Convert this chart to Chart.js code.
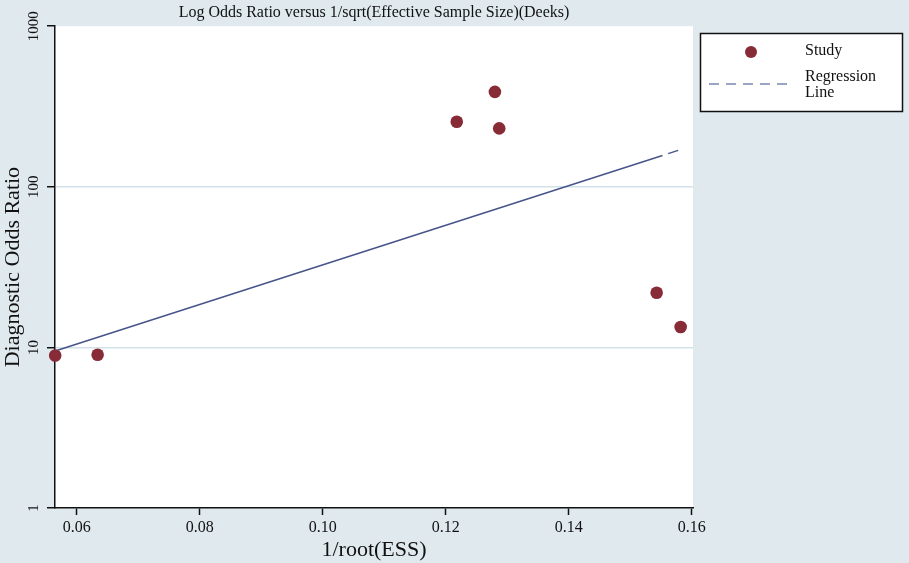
<!DOCTYPE html>
<html>
<head>
<meta charset="utf-8">
<script src="https://cdn.jsdelivr.net/npm/chart.js@4.4.1/dist/chart.umd.min.js"></script>
<style>
  html, body { margin: 0; padding: 0; background: #dfe9ee; }
  #wrap { width: 909px; height: 563px; position: relative; }
</style>
</head>
<body>
<div id="wrap"><canvas id="c"></canvas></div>
<script>
// ---- data ----
const studyX   = [0.0565, 0.0634, 0.1218, 0.1280, 0.1287, 0.1543, 0.1582];
const studyDOR = [8.9, 9.0, 254, 390, 231, 21.9, 13.4];
const regX     = [0.0565, 0.1578];
const regDOR   = [9.5, 168.5];
const xTicks   = [0.06, 0.08, 0.10, 0.12, 0.14, 0.16];
const yTicks   = [1, 10, 100, 1000];
const yGridAt  = [10, 100];
const titleText  = 'Log Odds Ratio versus 1/sqrt(Effective Sample Size)(Deeks)';
const xTitleText = '1/root(ESS)';
const yTitleText = 'Diagnostic Odds Ratio';
const legendItems = ['Study', 'Regression', 'Line'];

const SERIF = '"Liberation Serif", "DejaVu Serif", serif';
const BG = '#dfe9ee';
const POINT_COLOR = '#872b37';
const LINE_COLOR = '#46548a';

const bgPlugin = {
  id: 'bg',
  beforeDraw(chart) {
    const {ctx, chartArea: a} = chart;
    ctx.save();
    ctx.fillStyle = BG;
    ctx.fillRect(0, 0, chart.width, chart.height);
    ctx.fillStyle = '#ffffff';
    ctx.fillRect(a.left, a.top, a.right - a.left, a.bottom - a.top);
    ctx.restore();
  }
};

const legendPlugin = {
  id: 'customLegend',
  afterDraw(chart) {
    const ctx = chart.ctx;
    const bx = 700.5, by = 33.5, bw = 202, bh = 78;
    ctx.save();
    ctx.fillStyle = '#ffffff';
    ctx.fillRect(bx, by, bw, bh);
    ctx.strokeStyle = '#111';
    ctx.lineWidth = 1.5;
    ctx.strokeRect(bx, by, bw, bh);
    // marker
    ctx.fillStyle = POINT_COLOR;
    ctx.beginPath();
    ctx.arc(751, 52, 6, 0, Math.PI * 2);
    ctx.fill();
    // dashed line
    ctx.strokeStyle = '#7a88b0';
    ctx.lineWidth = 1.5;
    ctx.setLineDash([10, 7]);
    ctx.beginPath();
    ctx.moveTo(709, 84);
    ctx.lineTo(793, 84);
    ctx.stroke();
    ctx.setLineDash([]);
    // texts
    ctx.fillStyle = '#111';
    ctx.font = '16px ' + SERIF;
    ctx.textAlign = 'left';
    ctx.textBaseline = 'middle';
    ctx.fillText(legendItems[0], 805, 51);
    ctx.fillText(legendItems[1], 805, 77);
    ctx.fillText(legendItems[2], 805, 93);
    ctx.restore();
  }
};

new Chart(document.getElementById('c'), {
  type: 'scatter',
  data: {
    datasets: [
      {
        type: 'line',
        label: 'Regression Line',
        data: regX.map((x, i) => ({x, y: regDOR[i]})),
        borderColor: LINE_COLOR,
        borderWidth: 1.5,
        borderDash: [638, 6],
        pointRadius: 0,
        fill: false,
        clip: false,
        order: 2
      },
      {
        label: 'Study',
        data: studyX.map((x, i) => ({x, y: studyDOR[i]})),
        backgroundColor: POINT_COLOR,
        borderColor: POINT_COLOR,
        pointRadius: 6.3,
        pointBorderWidth: 0,
        clip: false,
        order: 1
      }
    ]
  },
  options: {
    responsive: true,
    maintainAspectRatio: false,
    animation: false,
    layout: { padding: { left: 0, right: 216, top: 0, bottom: 0 } },
    plugins: {
      legend: { display: false },
      tooltip: { enabled: false },
      title: {
        display: true,
        text: titleText,
        fullSize: false,
        color: '#111',
        font: { family: SERIF, size: 16, weight: 'normal' },
        padding: { top: 3, bottom: 4 }
      }
    },
    scales: {
      x: {
        type: 'linear',
        min: 0.05647,
        max: 0.16021,
        afterBuildTicks(scale) { scale.ticks = xTicks.map(v => ({value: v})); },
        afterFit(scale) { scale.height = 55; },
        ticks: {
          color: '#111',
          font: { family: SERIF, size: 16 },
          padding: 3,
          maxRotation: 0,
          callback: v => Number(v).toFixed(2)
        },
        grid: { drawOnChartArea: false, drawTicks: true, tickLength: 7, tickColor: '#111', tickWidth: 1.5 },
        border: { display: true, color: '#111', width: 1.5 },
        title: {
          display: true,
          text: xTitleText,
          color: '#111',
          font: { family: SERIF, size: 22 },
          padding: { top: 0, bottom: 0 }
        }
      },
      y: {
        type: 'logarithmic',
        min: 1,
        max: 1000,
        afterBuildTicks(scale) { scale.ticks = yTicks.map(v => ({value: v})); },
        afterFit(scale) { scale.width = 55; },
        ticks: {
          color: '#111',
          font: { family: SERIF, size: 15 },
          minRotation: 90,
          maxRotation: 90,
          crossAlign: 'center',
          padding: -2,
          callback: v => String(v)
        },
        grid: {
          drawOnChartArea: true,
          drawTicks: true,
          tickLength: 8,
          tickColor: '#111',
          tickWidth: 1.5,
          lineWidth: 1.5,
          color: ctx => (ctx.tick && yGridAt.includes(ctx.tick.value)) ? '#d3e2e9' : 'rgba(0,0,0,0)'
        },
        border: { display: true, color: '#111', width: 1.5 },
        title: {
          display: true,
          text: yTitleText,
          color: '#111',
          font: { family: SERIF, size: 22 },
          padding: { top: 0, bottom: 0 }
        }
      }
    }
  },
  plugins: [bgPlugin, legendPlugin]
});
</script>
</body>
</html>
